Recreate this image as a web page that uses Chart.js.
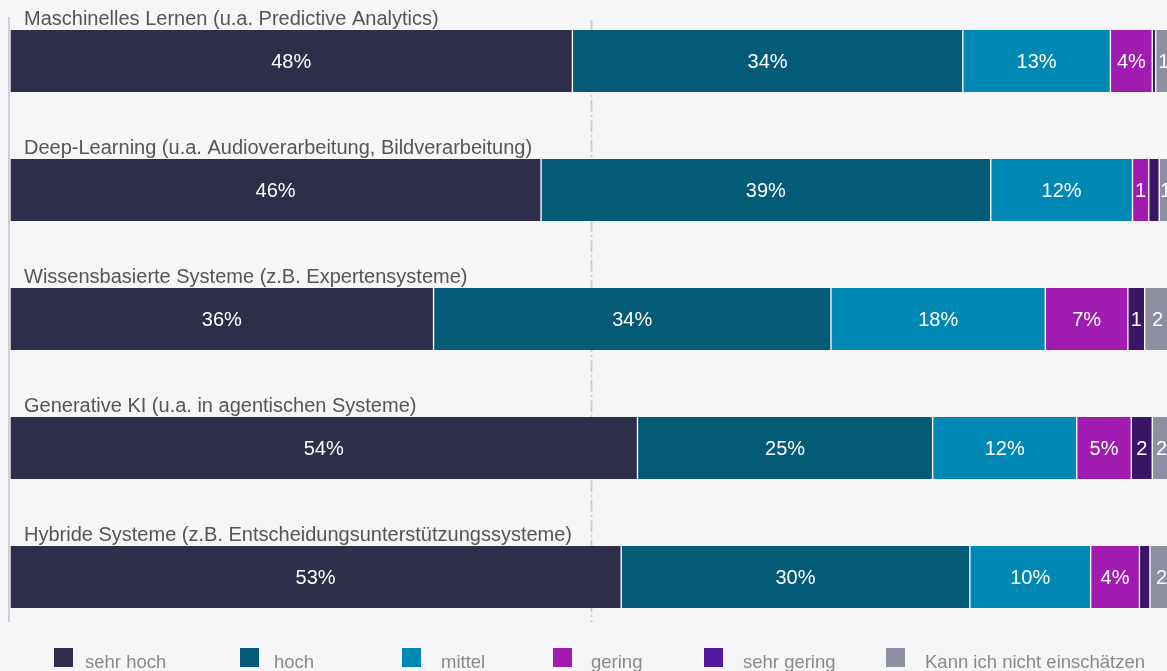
<!DOCTYPE html>
<html><head><meta charset="utf-8">
<script src="https://cdn.jsdelivr.net/npm/chart.js@4"></script>
<style>html,body{margin:0;padding:0;background:#f6f6f9;overflow:hidden;width:1167px;height:671px}canvas{display:block}</style>
</head><body>
<canvas id="c" width="1180" height="671"></canvas>
<script>
const categories = [
  'Maschinelles Lernen (u.a. Predictive Analytics)',
  'Deep-Learning (u.a. Audioverarbeitung, Bildverarbeitung)',
  'Wissensbasierte Systeme (z.B. Expertensysteme)',
  'Generative KI (u.a. in agentischen Systeme)',
  'Hybride Systeme (z.B. Entscheidungsunterstützungssysteme)'
];
const seriesNames = ['sehr hoch','hoch','mittel','gering','sehr gering','Kann ich nicht einschätzen'];
const sehrHoch   = [48.4, 45.7, 36.45, 54.0, 52.6];
const hoch       = [33.6, 38.7, 34.2, 25.4, 30.0];
const mittel     = [12.7, 12.2, 18.45, 12.4, 10.4];
const gering     = [3.6, 1.4, 7.1, 4.7, 4.2];
const sehrGering = [0.3, 0.9, 1.45, 1.8, 0.9];
const kannNicht  = [1.4, 1.1, 2.2, 1.6, 2.0];
const seriesValues = [sehrHoch, hoch, mittel, gering, sehrGering, kannNicht];
const barColors    = ['#2f2e4a','#035b78','#0088b4','#a11bb0','#3a1565','#8c8ea2'];
const legendColors = ['#2f2e4a','#035b78','#0088b4','#a11bb0','#521a9e','#8c8ea2'];
const FONT = '"Liberation Sans", Arial, sans-serif';

const decor = {
  id: 'decor',
  beforeDatasetsDraw(chart) {
    const ctx = chart.ctx, x = chart.scales.x;
    ctx.save();
    ctx.strokeStyle = '#cfcfdb'; ctx.lineWidth = 2;
    ctx.beginPath(); ctx.moveTo(9, 17); ctx.lineTo(9, 622); ctx.stroke();
    const xm = Math.round(x.getPixelForValue(50)) + 0.5;
    ctx.strokeStyle = '#cdcdd6'; ctx.lineWidth = 2;
    ctx.setLineDash([12, 3, 2, 3]);
    ctx.beginPath(); ctx.moveTo(xm, 20); ctx.lineTo(xm, 622); ctx.stroke();
    ctx.restore();
  },
  afterDatasetsDraw(chart) {
    const ctx = chart.ctx, y = chart.scales.y;
    ctx.save();
    ctx.font = '20px ' + FONT;
    ctx.textBaseline = 'alphabetic';
    ctx.fillStyle = '#555555';
    ctx.textAlign = 'left';
    categories.forEach((c, i) => {
      ctx.fillText(c, 24, y.getPixelForValue(i) - 36);
    });
    ctx.fillStyle = '#ffffff';
    ctx.textAlign = 'center';
    ctx.textBaseline = 'middle';
    chart.data.datasets.forEach((ds, di) => {
      const meta = chart.getDatasetMeta(di);
      meta.data.forEach((bar, i) => {
        const v = ds.data[i];
        if (v < 1.2 && di !== 5) return;
        const txt = v >= 3 ? Math.round(v) + '%' : String(Math.round(v));
        const cx = (bar.x + bar.base) / 2;
        ctx.fillText(txt, cx, bar.y + 1);
      });
    });
    ctx.restore();
  },
  afterDraw(chart) {
    const ctx = chart.ctx;
    const sq = [54, 240, 402, 553, 704, 886];
    const tx = [85, 274, 441, 591, 743, 925];
    ctx.save();
    ctx.font = '18.5px ' + FONT;
    ctx.textBaseline = 'alphabetic';
    ctx.textAlign = 'left';
    seriesNames.forEach((n, i) => {
      ctx.fillStyle = legendColors[i];
      ctx.fillRect(sq[i], 648, 19, 19);
      ctx.fillStyle = '#8a8a8a';
      ctx.fillText(n, tx[i], 668);
    });
    ctx.restore();
  }
};

new Chart(document.getElementById('c'), {
  type: 'bar',
  data: {
    labels: categories,
    datasets: seriesNames.map((n, i) => ({
      label: n,
      data: seriesValues[i],
      backgroundColor: barColors[i],
      borderColor: '#ffffff',
      borderWidth: {left: 1, right: 1, top: 0, bottom: 0},
      borderSkipped: false,
      barThickness: 62,
      clip: false
    }))
  },
  options: {
    indexAxis: 'y',
    responsive: false,
    animation: false,
    layout: {padding: {left: 10, right: 8, top: 61, bottom: 94}},
    scales: {
      x: {stacked: true, min: 0, max: 100, display: false},
      y: {stacked: true, display: false, offset: false}
    },
    plugins: {legend: {display: false}, tooltip: {enabled: false}}
  },
  plugins: [decor]
});
</script>
</body></html>
